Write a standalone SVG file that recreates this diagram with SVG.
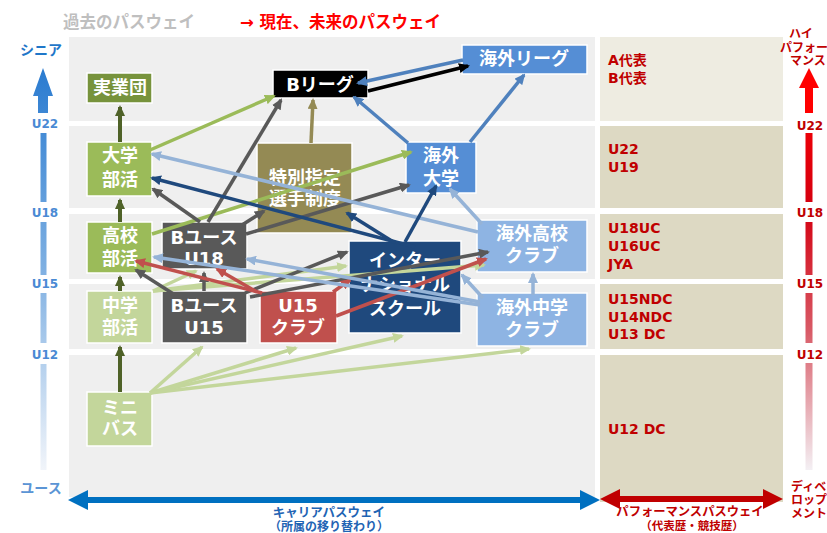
<svg xmlns="http://www.w3.org/2000/svg" width="827" height="533" viewBox="0 0 827 533">
<style>
.t{font-family:"DejaVu Sans","Noto Sans CJK JP",sans-serif;font-weight:700}
.n{fill:#fff;font-size:18px;text-anchor:middle}
.lab{fill:#c00000;font-size:14px}
.bl{fill:#4a8ad4;font-size:12px;text-anchor:middle}
.rd{fill:#c00000;font-size:12px;text-anchor:middle}
.box{stroke:#fff;stroke-width:1.5}
.band{fill:#efefef}
.tan{fill:#ddd9c3}
.c{fill:none;stroke-width:3.5}
</style>
<defs>
<linearGradient id="gb" gradientUnits="userSpaceOnUse" x1="0" y1="68" x2="0" y2="472">
<stop offset="0" stop-color="#2a7bd0"/><stop offset="0.5" stop-color="#7fb0e2"/><stop offset="1" stop-color="#f2f5fa"/>
</linearGradient>
<linearGradient id="gr" gradientUnits="userSpaceOnUse" x1="0" y1="68" x2="0" y2="472">
<stop offset="0" stop-color="#ff0000"/><stop offset="0.35" stop-color="#d40010"/><stop offset="0.65" stop-color="#d85a66"/><stop offset="1" stop-color="#f4f2f6"/>
</linearGradient>
<marker id="a-do" markerUnits="userSpaceOnUse" markerWidth="11" markerHeight="10" viewBox="0 0 11 10" refX="9" refY="5" orient="auto"><path d="M0,0L11,5L0,10z" fill="#4f6228"/></marker>
<marker id="a-g" markerUnits="userSpaceOnUse" markerWidth="11" markerHeight="10" viewBox="0 0 11 10" refX="9" refY="5" orient="auto"><path d="M0,0L11,5L0,10z" fill="#9bbb59"/></marker>
<marker id="a-lg" markerUnits="userSpaceOnUse" markerWidth="11" markerHeight="10" viewBox="0 0 11 10" refX="9" refY="5" orient="auto"><path d="M0,0L11,5L0,10z" fill="#c3d69b"/></marker>
<marker id="a-dg" markerUnits="userSpaceOnUse" markerWidth="11" markerHeight="10" viewBox="0 0 11 10" refX="9" refY="5" orient="auto"><path d="M0,0L11,5L0,10z" fill="#595959"/></marker>
<marker id="a-r" markerUnits="userSpaceOnUse" markerWidth="11" markerHeight="10" viewBox="0 0 11 10" refX="9" refY="5" orient="auto"><path d="M0,0L11,5L0,10z" fill="#c0504d"/></marker>
<marker id="a-nv" markerUnits="userSpaceOnUse" markerWidth="11" markerHeight="10" viewBox="0 0 11 10" refX="9" refY="5" orient="auto"><path d="M0,0L11,5L0,10z" fill="#1f497d"/></marker>
<marker id="a-lb" markerUnits="userSpaceOnUse" markerWidth="11" markerHeight="10" viewBox="0 0 11 10" refX="9" refY="5" orient="auto"><path d="M0,0L11,5L0,10z" fill="#95b3d7"/></marker>
<marker id="a-b" markerUnits="userSpaceOnUse" markerWidth="11" markerHeight="10" viewBox="0 0 11 10" refX="9" refY="5" orient="auto"><path d="M0,0L11,5L0,10z" fill="#4f81bd"/></marker>
<marker id="a-k" markerUnits="userSpaceOnUse" markerWidth="11" markerHeight="10" viewBox="0 0 11 10" refX="9" refY="5" orient="auto"><path d="M0,0L11,5L0,10z" fill="#000"/></marker>
<marker id="a-ol" markerUnits="userSpaceOnUse" markerWidth="11" markerHeight="10" viewBox="0 0 11 10" refX="9" refY="5" orient="auto"><path d="M0,0L11,5L0,10z" fill="#948a54"/></marker>
</defs>
<rect width="827" height="533" fill="#fff"/>
<g id="titles" class="t" font-size="16.5">
<text x="63" y="28" fill="#bfbfbf">過去のパスウェイ</text>
<text x="240" y="28" fill="#ff0000">→ 現在、未来のパスウェイ</text>
</g>
<g id="bands">
<rect class="band" x="69" y="37" width="526" height="84"/>
<rect class="band" x="69" y="126" width="526" height="82"/>
<rect class="band" x="69" y="214" width="526" height="65"/>
<rect class="band" x="69" y="284" width="526" height="65"/>
<rect class="band" x="69" y="355" width="526" height="142"/>
<rect x="600" y="37" width="183" height="84" fill="#eeece1"/>
<rect class="tan" x="600" y="126" width="183" height="82"/>
<rect class="tan" x="600" y="214" width="183" height="65"/>
<rect class="tan" x="600" y="284" width="183" height="65"/>
<rect class="tan" x="600" y="355" width="183" height="147"/>
</g>
<g id="left-axis">
<text class="t" x="41" y="55" fill="#1f77c9" font-size="14" text-anchor="middle">シニア</text>
<path d="M43,68 L53,96 L48,96 L48,113 L38,113 L38,96 L33,96 Z" fill="url(#gb)"/>
<rect x="40.5" y="133" width="6" height="69" fill="url(#gb)"/>
<rect x="40.5" y="222" width="6" height="53" fill="url(#gb)"/>
<rect x="40.5" y="293" width="6" height="50" fill="url(#gb)"/>
<rect x="40.5" y="364" width="6" height="106" fill="url(#gb)"/>
<text class="t bl" x="45" y="127.5">U22</text>
<text class="t bl" x="45" y="216.5">U18</text>
<text class="t bl" x="45" y="287.5">U15</text>
<text class="t bl" x="45" y="358.5">U12</text>
<text class="t" x="41" y="493" fill="#5b95d5" font-size="14" text-anchor="middle">ユース</text>
</g>
<g id="right-axis">
<text class="t rd" x="801" y="37.5">ハイ</text>
<text class="t rd" x="804" y="51.5" font-size="11">パフォー</text>
<text class="t rd" x="808" y="64.5">マンス</text>
<path d="M809,68 L819,88 L813,88 L813,113 L805,113 L805,88 L799,88 Z" fill="#ff0000"/>
<rect x="805.5" y="133" width="7" height="69" fill="url(#gr)"/>
<rect x="805.5" y="222" width="7" height="53" fill="url(#gr)"/>
<rect x="805.5" y="293" width="7" height="50" fill="url(#gr)"/>
<rect x="805.5" y="363" width="7" height="107" fill="url(#gr)"/>
<text class="t rd" x="810" y="129.5">U22</text>
<text class="t rd" x="810" y="216.5">U18</text>
<text class="t rd" x="810" y="287.5">U15</text>
<text class="t rd" x="810" y="358.5">U12</text>
<text class="t" x="791" y="490.5" fill="#c00000" font-size="12">ディベ</text>
<text class="t" x="791" y="503.5" fill="#c00000" font-size="12">ロップ</text>
<text class="t" x="791" y="517.5" fill="#c00000" font-size="12">メント</text>
</g>
<g id="bottom-axis">
<path d="M68,500 L88,490 L88,497 L580,497 L580,490 L600,500 L580,510 L580,503 L88,503 L88,510 Z" fill="#0070c0"/>
<path d="M600,499 L620,489 L620,496 L763,496 L763,489 L783,499 L763,509 L763,502 L620,502 L620,509 Z" fill="#c00000"/>
<text class="t" x="329" y="517" fill="#1f64b4" font-size="12.5" text-anchor="middle">キャリアパスウェイ</text>
<text class="t" x="329" y="531" fill="#1f64b4" font-size="12" text-anchor="middle">（所属の移り替わり）</text>
<text class="t" x="690" y="516" fill="#c00000" font-size="12.3" text-anchor="middle">パフォーマンスパスウェイ</text>
<text class="t" x="692" y="530" fill="#c00000" font-size="11.5" text-anchor="middle">（代表歴・競技歴）</text>
</g>
<g id="perf-labels" class="t lab">
<text x="608" y="65">A代表</text>
<text x="608" y="83">B代表</text>
<text x="608" y="154">U22</text>
<text x="608" y="172">U19</text>
<text x="608" y="233">U18UC</text>
<text x="608" y="251">U16UC</text>
<text x="608" y="269">JYA</text>
<text x="608" y="304">U15NDC</text>
<text x="608" y="322">U14NDC</text>
<text x="608" y="339">U13 DC</text>
<text x="608" y="434">U12 DC</text>
</g>
<g id="n-jitsugyodan"><rect class="box" x="87" y="73" width="65" height="30" fill="#77933c"/><text class="t n" x="120" y="94" font-size="16">実業団</text></g>
<g id="n-bleague"><rect class="box" x="273" y="70" width="95" height="28" fill="#000"/><text class="t n" x="320" y="91" font-size="17">Bリーグ</text></g>
<g id="n-kaigai-league"><rect class="box" x="462" y="45" width="125" height="29" fill="#558ed5"/><text class="t n" x="524" y="65">海外リーグ</text></g>
<g id="n-daigaku"><rect class="box" x="87" y="142" width="65" height="54" fill="#9bbb59"/><text class="t n" x="120" y="161.5">大学</text><text class="t n" x="120" y="185.5">部活</text></g>
<g id="n-tokubetsu"><rect class="box" x="257" y="143" width="95" height="90" fill="#948a54"/><text class="t n" x="305" y="183.5">特別指定</text><text class="t n" x="305" y="204.5">選手制度</text></g>
<g id="n-kaigai-daigaku"><rect class="box" x="406" y="142" width="70" height="51" fill="#558ed5"/><text class="t n" x="441" y="161.5">海外</text><text class="t n" x="441" y="184.5">大学</text></g>
<g id="n-koko"><rect class="box" x="87" y="222" width="65" height="51" fill="#9bbb59"/><text class="t n" x="120" y="241.5">高校</text><text class="t n" x="120" y="264.5">部活</text></g>
<g id="n-byouth-u18"><rect class="box" x="162" y="222" width="85" height="47" fill="#595959"/><text class="t n" x="204" y="243.5">Bユース</text><text class="t n" x="204" y="264.5">U18</text></g>
<g id="n-inter"><rect class="box" x="349" y="241" width="112" height="92" fill="#1f497d"/><text class="t n" x="405" y="266.5">インター</text><text class="t n" x="405" y="290.5">ナショナル</text><text class="t n" x="405" y="314.5">スクール</text></g>
<g id="n-kaigai-koko"><rect class="box" x="477" y="220" width="110" height="52" fill="#8eb4e3"/><text class="t n" x="532" y="239.5">海外高校</text><text class="t n" x="532" y="261.5">クラブ</text></g>
<g id="n-chugaku"><rect class="box" x="87" y="291" width="65" height="52" fill="#c3d69b"/><text class="t n" x="120" y="311.5">中学</text><text class="t n" x="120" y="333.5">部活</text></g>
<g id="n-byouth-u15"><rect class="box" x="162" y="291" width="85" height="52" fill="#595959"/><text class="t n" x="204" y="311.5">Bユース</text><text class="t n" x="204" y="333.5">U15</text></g>
<g id="n-u15club"><rect class="box" x="260" y="291" width="77" height="52" fill="#c0504d"/><text class="t n" x="298" y="311.5">U15</text><text class="t n" x="298" y="333.5">クラブ</text></g>
<g id="n-kaigai-chugaku"><rect class="box" x="477" y="293" width="110" height="53" fill="#8eb4e3"/><text class="t n" x="532" y="313.5">海外中学</text><text class="t n" x="532" y="335.5">クラブ</text></g>
<g id="n-minibasu"><rect class="box" x="87" y="392" width="65" height="54" fill="#c3d69b"/><text class="t n" x="120" y="413.5">ミニ</text><text class="t n" x="120" y="434.5">バス</text></g>
<g id="connectors" class="c">
<g stroke="#4f6228" marker-end="url(#a-do)" stroke-width="4">
<line x1="120" y1="392" x2="120" y2="347"/>
<line x1="120" y1="291" x2="120" y2="277"/>
<line x1="120" y1="222" x2="120" y2="200"/>
<line x1="120" y1="142" x2="120" y2="107"/>
</g>
<g stroke="#c3d69b" marker-end="url(#a-lg)">
<line x1="150" y1="393" x2="202" y2="347"/>
<line x1="150" y1="393" x2="296" y2="348"/>
<line x1="150" y1="393" x2="402" y2="336"/>
<line x1="150" y1="393" x2="529" y2="349"/>
<line x1="153" y1="291" x2="196" y2="271"/>
<line x1="153" y1="291" x2="346" y2="266"/>
<line x1="153" y1="291" x2="484" y2="265"/>
</g>
<g stroke="#9bbb59" marker-end="url(#a-g)">
<line x1="150" y1="150" x2="274" y2="96"/>
<line x1="152" y1="234" x2="411" y2="152"/>
</g>
<g stroke="#595959" marker-end="url(#a-dg)">
<line x1="208" y1="222" x2="281" y2="100"/>
<line x1="200" y1="222" x2="153" y2="189"/>
<line x1="242" y1="225" x2="264" y2="211"/>
<line x1="246" y1="234" x2="409" y2="185"/>
<line x1="175" y1="295" x2="136" y2="270"/>
<line x1="204" y1="291" x2="204" y2="273"/>
<line x1="245" y1="293" x2="347" y2="252"/>
<line x1="250" y1="297" x2="488" y2="252"/>
</g>
<g stroke="#c0504d" marker-end="url(#a-r)">
<line x1="262" y1="293" x2="136" y2="261"/>
<line x1="257" y1="292" x2="217" y2="269"/>
<line x1="333" y1="292" x2="350" y2="280"/>
<line x1="336" y1="316" x2="486" y2="259"/>
</g>
<g stroke="#95b3d7" marker-end="url(#a-lb)">
<line x1="478" y1="232" x2="152" y2="154"/>
<line x1="482" y1="224" x2="450" y2="189"/>
<line x1="480" y1="302" x2="247" y2="259"/>
<line x1="480" y1="305" x2="154" y2="257"/>
<line x1="483" y1="298" x2="462" y2="275"/>
<line x1="533" y1="295" x2="533" y2="274"/>
</g>
<g stroke="#1f497d" marker-end="url(#a-nv)">
<line x1="415" y1="247" x2="152" y2="178"/>
<line x1="395" y1="243" x2="347" y2="213"/>
<line x1="405" y1="242" x2="436" y2="186"/>
</g>
<g stroke="#4f81bd" marker-end="url(#a-b)">
<line x1="408" y1="143" x2="354" y2="97"/>
<line x1="470" y1="142" x2="524" y2="75"/>
<line x1="463" y1="60" x2="358" y2="83"/>
</g>
<line x1="368" y1="91" x2="468" y2="66" stroke="#000" marker-end="url(#a-k)"/>
<line x1="311" y1="143" x2="313" y2="100" stroke="#948a54" marker-end="url(#a-ol)"/>
</g>
</svg>
